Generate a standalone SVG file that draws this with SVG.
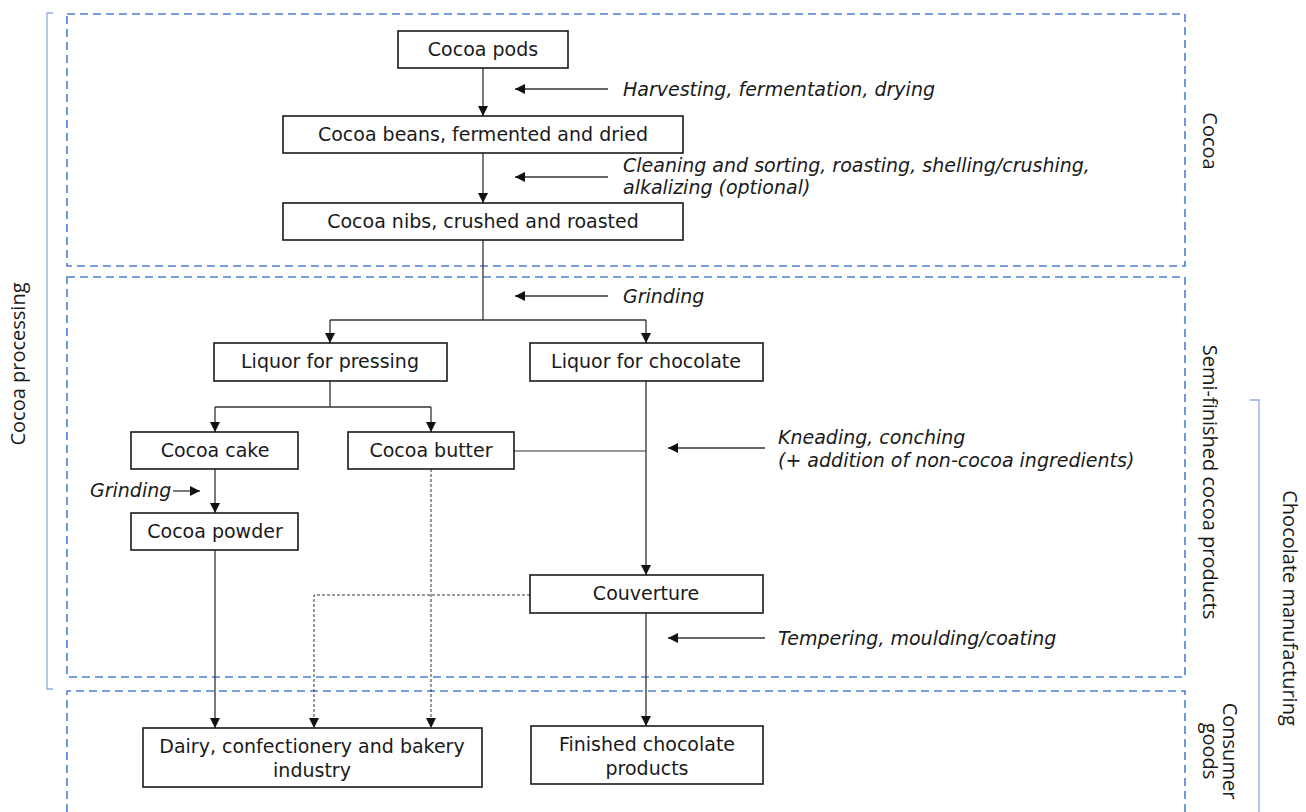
<svg xmlns="http://www.w3.org/2000/svg" width="1306" height="812" viewBox="0 0 1306 812">
<style>
.bg{fill:#fff}
.zone{fill:none;stroke:#4f7fd8;stroke-width:1.6;stroke-dasharray:8 5}
.brk{fill:none;stroke:#8fa9e0;stroke-width:1.3}
.box{fill:#fff;stroke:#1a1a1a;stroke-width:1.6}
.t{font-family:"DejaVu Sans",Verdana,sans-serif;font-size:19px;fill:#1a1a1a;text-anchor:middle}
.it{font-family:"DejaVu Sans",Verdana,sans-serif;font-size:19px;font-style:italic;fill:#1a1a1a}
.side{font-family:"Open Sans","DejaVu Sans",sans-serif;font-size:20px;fill:#1a1a1a;text-anchor:middle}
.ln{fill:none;stroke:#333;stroke-width:1.3}
.lg{fill:none;stroke:#777;stroke-width:1.3}
.dot{fill:none;stroke:#333;stroke-width:1;stroke-dasharray:3 2}
</style>
<defs>
<marker id="ah" viewBox="0 0 10 10" refX="10" refY="5" markerWidth="10" markerHeight="10" markerUnits="userSpaceOnUse" orient="auto">
<path d="M0,0 L10,5 L0,10 z" fill="#111"/>
</marker>
</defs>
<rect class="bg" x="0" y="0" width="1306" height="812"/>

<g id="zones">
<rect class="zone" x="67" y="14" width="1118" height="252"/>
<rect class="zone" x="67" y="277" width="1118" height="400"/>
<path class="zone" d="M67,812 L67,691 L1185,691 L1185,812"/>
<path class="brk" d="M53,13 L47,13 L47,689 L53,689"/>
<path class="brk" d="M1250,400 L1259,400 L1259,812"/>
<text class="side" transform="translate(25,364) rotate(-90)">Cocoa processing</text>
<text class="side" transform="translate(1203,141) rotate(90)">Cocoa</text>
<text class="side" transform="translate(1203,482) rotate(90)">Semi-finished cocoa products</text>
<text class="side" transform="translate(1223,751) rotate(90)">Consumer</text>
<text class="side" transform="translate(1203,751) rotate(90)">goods</text>
<text class="side" transform="translate(1283,608) rotate(90)">Chocolate manufacturing</text>
</g>

<g id="connectors">
<path class="ln" d="M483,68 V116" marker-end="url(#ah)"/>
<path class="ln" d="M483,153 V203" marker-end="url(#ah)"/>
<path class="ln" d="M483,240 V320"/>
<path class="ln" d="M330,320 H646"/>
<path class="ln" d="M330,320 V343" marker-end="url(#ah)"/>
<path class="ln" d="M646,320 V343" marker-end="url(#ah)"/>
<path class="ln" d="M330,381 V407"/>
<path class="ln" d="M215,407 H431"/>
<path class="ln" d="M215,407 V432" marker-end="url(#ah)"/>
<path class="ln" d="M431,407 V432" marker-end="url(#ah)"/>
<path class="ln" d="M215,469 V513" marker-end="url(#ah)"/>
<path class="ln" d="M215,550 V728" marker-end="url(#ah)"/>
<path class="lg" d="M514,451 H646"/>
<path class="ln" d="M646,381 V575" marker-end="url(#ah)"/>
<path class="ln" d="M646,613 V726" marker-end="url(#ah)"/>
<path class="dot" d="M431,469 V728" marker-end="url(#ah)"/>
<path class="dot" d="M530,595 H314 V728" marker-end="url(#ah)"/>
<path class="ln" d="M608,89 H515" marker-end="url(#ah)"/>
<path class="ln" d="M608,177 H515" marker-end="url(#ah)"/>
<path class="ln" d="M608,296 H515" marker-end="url(#ah)"/>
<path class="ln" d="M765,448 H668" marker-end="url(#ah)"/>
<path class="ln" d="M765,638 H668" marker-end="url(#ah)"/>
<path class="ln" d="M173,491 H200" marker-end="url(#ah)"/>
</g>

<g id="labels">
<text class="it" x="623" y="96">Harvesting, fermentation, drying</text>
<text class="it" x="623" y="172">Cleaning and sorting, roasting, shelling/crushing,</text>
<text class="it" x="623" y="194">alkalizing (optional)</text>
<text class="it" x="623" y="303">Grinding</text>
<text class="it" x="778" y="444">Kneading, conching</text>
<text class="it" x="778" y="467">(+ addition of non-cocoa ingredients)</text>
<text class="it" x="778" y="645">Tempering, moulding/coating</text>
<text class="it" x="90" y="497">Grinding</text>
</g>

<g id="n-pods"><rect class="box" x="398" y="31" width="170" height="37"/><text class="t" x="483" y="56">Cocoa pods</text></g>
<g id="n-beans"><rect class="box" x="283" y="116" width="400" height="37"/><text class="t" x="483" y="141">Cocoa beans, fermented and dried</text></g>
<g id="n-nibs"><rect class="box" x="283" y="203" width="400" height="37"/><text class="t" x="483" y="228">Cocoa nibs, crushed and roasted</text></g>
<g id="n-lpress"><rect class="box" x="214" y="343" width="233" height="38"/><text class="t" x="330" y="368">Liquor for pressing</text></g>
<g id="n-lchoc"><rect class="box" x="530" y="343" width="233" height="38"/><text class="t" x="646" y="368">Liquor for chocolate</text></g>
<g id="n-cake"><rect class="box" x="131" y="432" width="167" height="37"/><text class="t" x="215" y="457">Cocoa cake</text></g>
<g id="n-butter"><rect class="box" x="348" y="432" width="166" height="37"/><text class="t" x="431" y="457">Cocoa butter</text></g>
<g id="n-powder"><rect class="box" x="131" y="513" width="167" height="37"/><text class="t" x="215" y="538">Cocoa powder</text></g>
<g id="n-couv"><rect class="box" x="530" y="575" width="233" height="38"/><text class="t" x="646" y="600">Couverture</text></g>
<g id="n-dairy"><rect class="box" x="143" y="728" width="339" height="59"/><text class="t" x="312" y="753">Dairy, confectionery and bakery</text><text class="t" x="312" y="777">industry</text></g>
<g id="n-fin"><rect class="box" x="531" y="726" width="232" height="58"/><text class="t" x="647" y="751">Finished chocolate</text><text class="t" x="647" y="775">products</text></g>
</svg>
